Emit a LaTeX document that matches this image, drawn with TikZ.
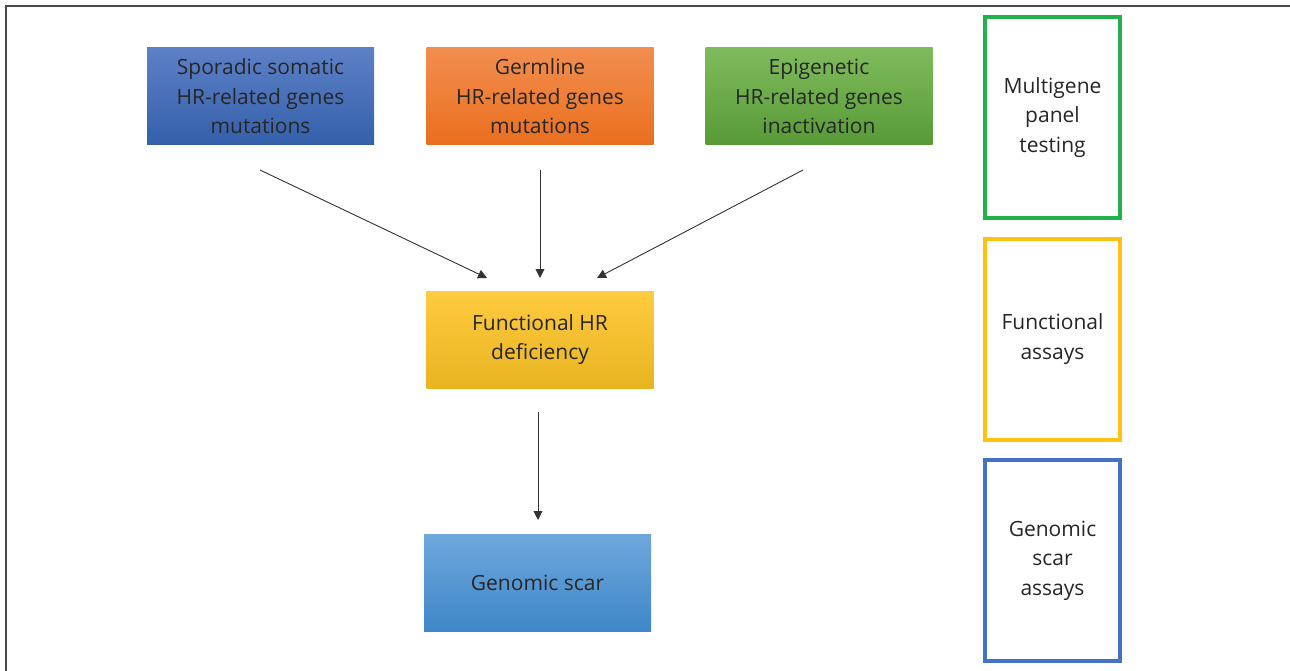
\documentclass[tikz,border=0pt]{standalone}
\usepackage{fontspec}
\setmainfont{Open Sans}
\usetikzlibrary{arrows.meta}
\definecolor{txt}{HTML}{262626}
\definecolor{frame}{HTML}{4A4A4A}
\definecolor{gOut}{HTML}{22B24C}
\definecolor{yOut}{HTML}{FFC20E}
\definecolor{bOut}{HTML}{4472C4}
\definecolor{blueT}{HTML}{5D80C6}
\definecolor{blueB}{HTML}{3460AA}
\definecolor{oranT}{HTML}{F28E50}
\definecolor{oranB}{HTML}{EA6F1E}
\definecolor{greenT}{HTML}{7FBB5C}
\definecolor{greenB}{HTML}{589A37}
\definecolor{yelT}{HTML}{FFCB40}
\definecolor{yelB}{HTML}{E8B420}
\definecolor{lbT}{HTML}{6FA8DC}
\definecolor{lbB}{HTML}{3E87C8}
\tikzset{
  fillbox/.style={minimum width=227pt, minimum height=97pt, inner sep=0pt, align=center, text=txt,
    font=\fontsize{21}{29.5}\selectfont},
  outbox/.style={draw=#1, line width=4pt, minimum width=135pt, minimum height=201pt, inner sep=0pt,
    align=center, text=txt, font=\fontsize{21}{29.5}\selectfont},
  conn/.style={draw=black!80, line width=0.9pt, -{Triangle[length=9pt,width=9pt]}}
}
\begin{document}
\begin{tikzpicture}[x=1pt,y=-1pt]
\useasboundingbox (0,0) rectangle (1290,671);
\draw[frame, line width=2pt] (5.5,671) -- (5.5,6.5) -- (1290,6.5);

\node[fillbox, top color=blueT, bottom color=blueB] (spor) at (260.5,96.5)
  {Sporadic somatic\\HR-related genes\\mutations};
\node[fillbox, top color=oranT, bottom color=oranB] (germ) at (540,96.5)
  {Germline\\HR-related genes\\mutations};
\node[fillbox, top color=greenT, bottom color=greenB] (epi) at (819,96.5)
  {Epigenetic\\HR-related genes\\inactivation};
\node[fillbox, top color=yelT, bottom color=yelB] (func) at (540,339.5)
  {Functional HR\\deficiency};
\node[fillbox, top color=lbT, bottom color=lbB] (scar) at (537.5,582.5)
  {Genomic scar};

\node[outbox=gOut] (multi) at (1052.5,117.5) {Multigene\\panel\\testing};
\node[outbox=yOut] (fassay) at (1052.5,339) {Functional\\assays};
\node[outbox=bOut] (gassay) at (1052.5,560.5) {Genomic\\scar\\assays};

\coordinate (s1) at (260,170);
\coordinate (e1) at (487,278);
\coordinate (s2) at (540,170);
\coordinate (e2) at (540,278);
\coordinate (s3) at (803,170);
\coordinate (e3) at (597,278);
\coordinate (s4) at (538,412);
\coordinate (e4) at (538,520);
\draw[conn] (s1) -- (e1);
\draw[conn] (s2) -- (e2);
\draw[conn] (s3) -- (e3);
\draw[conn] (s4) -- (e4);
\end{tikzpicture}
\end{document}
